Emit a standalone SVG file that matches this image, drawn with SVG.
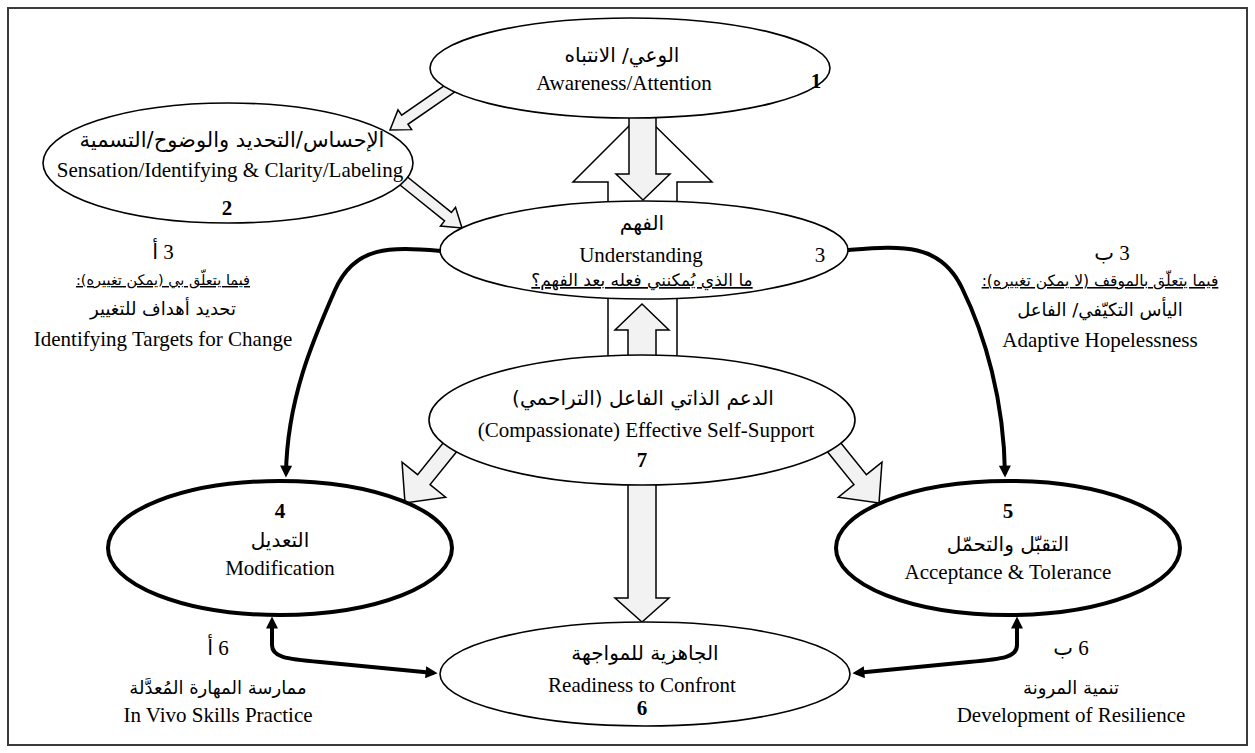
<svg xmlns="http://www.w3.org/2000/svg" width="1255" height="753" viewBox="0 0 1255 753">
<defs>
<style>
.frame{fill:#fff;stroke:#3a3a3a;stroke-width:2}
.el{fill:#fff;stroke:#000;stroke-width:1.6}
.elb{fill:#fff;stroke:#000;stroke-width:4}
.blk{fill:#f2f2f2;stroke:#000;stroke-width:1.5;stroke-linejoin:miter}
.blkw{fill:#fff;stroke:#000;stroke-width:1.5}
.con{fill:none;stroke:#000;stroke-width:4}
.en{font-family:"Liberation Serif","Times New Roman",serif;font-size:21px;text-anchor:middle;fill:#000}
.ar{font-family:"DejaVu Sans",sans-serif;font-size:20px;text-anchor:middle;fill:#000}
.arl{font-family:"DejaVu Sans",sans-serif;font-size:18px;text-anchor:middle;fill:#000}
.aru{font-family:"DejaVu Sans",sans-serif;font-size:15.5px;text-anchor:middle;fill:#000;text-decoration:underline}
.num{font-family:"Liberation Serif","DejaVu Sans",serif;font-size:21px;font-weight:bold;text-anchor:middle;fill:#000}
.numr{font-family:"Liberation Serif","DejaVu Sans",serif;font-size:21px;text-anchor:middle;fill:#000}
</style>
<marker id="ah" viewBox="0 0 10 10" refX="7" refY="5" markerWidth="14" markerHeight="12" markerUnits="userSpaceOnUse" orient="auto-start-reverse">
<path d="M0,0 L10,5 L0,10 z" fill="#000"/>
</marker>
</defs>
<rect class="frame" x="8" y="8" width="1239" height="737"/>

<g id="block-arrows">
<polygon class="blk" points="454.87,78.48 401.68,115.24 397.99,109.90 390,130 411.63,129.64 407.94,124.29 461.13,87.52"/>
<polygon class="blk" points="396.55,182.28 444.54,220.98 440.46,226.04 462,228 455.52,207.36 451.44,212.42 403.45,173.72"/>
<polygon class="blkw" points="608,212 608,182 573,182 642,113 712,182 677,182 677,212"/>
<polygon class="blk" points="629,110 629,174 616,174 643,200 670,174 656,174 656,110"/>
<rect class="blkw" x="608" y="288" width="69" height="78"/>
<polygon class="blk" points="628,372 628,330 615,330 642,304 669,330 656,330 656,372"/>
<polygon class="blk" points="628,470 628,598 615,598 642,622 669,598 656,598 656,470"/>
<polygon class="blk" points="452.17,431.78 417.61,474.61 402.03,462.05 405,503 445.65,497.21 430.07,484.65 464.63,441.82"/>
<polygon class="blk" points="831.83,431.78 866.39,474.61 881.97,462.05 879,503 838.35,497.21 853.93,484.65 819.37,441.82"/>
</g>

<g id="node1">
<ellipse class="el" cx="630" cy="68" rx="200" ry="50"/>
<text class="ar" x="622" y="62" direction="rtl">الوعي/ الانتباه</text>
<text class="en" x="624" y="90">Awareness/Attention</text>
<text class="num" x="816" y="88">1</text>
</g>

<g id="node2">
<ellipse class="el" cx="228" cy="163" rx="185" ry="60"/>
<text class="ar" x="232" y="147" direction="rtl" style="font-size:21px">الإحساس/التحديد والوضوح/التسمية</text>
<text class="en" x="230" y="177">Sensation/Identifying &amp; Clarity/Labeling</text>
<text class="num" x="227" y="215">2</text>
</g>

<g id="node3">
<ellipse class="el" cx="644" cy="250" rx="204" ry="49"/>
<text class="ar" x="642" y="230" direction="rtl">الفهم</text>
<text class="en" x="641" y="262">Understanding</text>
<text class="ar" x="642" y="286" direction="rtl" text-decoration="underline" style="font-size:17px">ما الذي يُمكنني فعله بعد الفهم؟</text>
<text class="numr" x="820" y="262">3</text>
</g>

<g id="node7">
<ellipse class="el" cx="642" cy="420" rx="213" ry="65"/>
<text class="ar" x="643" y="405" direction="rtl">الدعم الذاتي الفاعل (التراحمي)</text>
<text class="en" x="646" y="437">(Compassionate) Effective Self-Support</text>
<text class="num" x="642" y="467">7</text>
</g>

<g id="node4">
<ellipse class="elb" cx="280" cy="548" rx="172" ry="67"/>
<text class="num" x="280" y="518">4</text>
<text class="ar" x="280" y="547" direction="rtl">التعديل</text>
<text class="en" x="280" y="575">Modification</text>
</g>

<g id="node5">
<ellipse class="elb" cx="1008" cy="548" rx="172" ry="67"/>
<text class="num" x="1008" y="518">5</text>
<text class="ar" x="1008" y="551" direction="rtl">التقبّل والتحمّل</text>
<text class="en" x="1008" y="579">Acceptance &amp; Tolerance</text>
</g>

<g id="node6">
<ellipse class="el" cx="645" cy="674" rx="205" ry="52"/>
<text class="ar" x="645" y="660" direction="rtl">الجاهزية للمواجهة</text>
<text class="en" x="642" y="692">Readiness to Confront</text>
<text class="num" x="642" y="715">6</text>
</g>

<g id="label3a">
<text class="numr" x="163" y="259" direction="rtl">3 أ</text>
<text class="aru" x="163" y="285" direction="rtl" style="font-size:14.5px">فيما يتعلّق بي (يمكن تغييره):</text>
<text class="arl" x="163" y="315" direction="rtl">تحديد أهداف للتغيير</text>
<text class="en" x="163" y="346">Identifying Targets for Change</text>
</g>

<g id="label3b">
<text class="numr" x="1112" y="260" direction="rtl">3 ب</text>
<text class="aru" x="1100" y="286" direction="rtl">فيما يتعلّق بالموقف (لا يمكن تغييره):</text>
<text class="arl" x="1100" y="316" direction="rtl">اليأس التكيّفي/ الفاعل</text>
<text class="en" x="1100" y="347">Adaptive Hopelessness</text>
</g>

<g id="label6a">
<text class="numr" x="218" y="655" direction="rtl">6 أ</text>
<text class="arl" x="218" y="694" direction="rtl">ممارسة المهارة المُعدَّلة</text>
<text class="en" x="218" y="722">In Vivo Skills Practice</text>
</g>

<g id="label6b">
<text class="numr" x="1071" y="655" direction="rtl">6 ب</text>
<text class="arl" x="1071" y="694" direction="rtl">تنمية المرونة</text>
<text class="en" x="1071" y="722">Development of Resilience</text>
</g>

<g id="connectors">
<path class="con" d="M 441 251 C 390 247 355 245 335 290 C 313 340 287 400 286 474" marker-end="url(#ah)"/>
<path class="con" d="M 848 250 C 900 246 940 242 962 288 C 985 335 1004 400 1005 474" marker-end="url(#ah)"/>
<path class="con" d="M 272 620 L 272 645 C 272 657 285 659 320 662 L 434 673" marker-start="url(#ah)" marker-end="url(#ah)"/>
<path class="con" d="M 1017 620 L 1017 645 C 1017 657 1004 659 969 662 L 856 673" marker-start="url(#ah)" marker-end="url(#ah)"/>
</g>
</svg>
